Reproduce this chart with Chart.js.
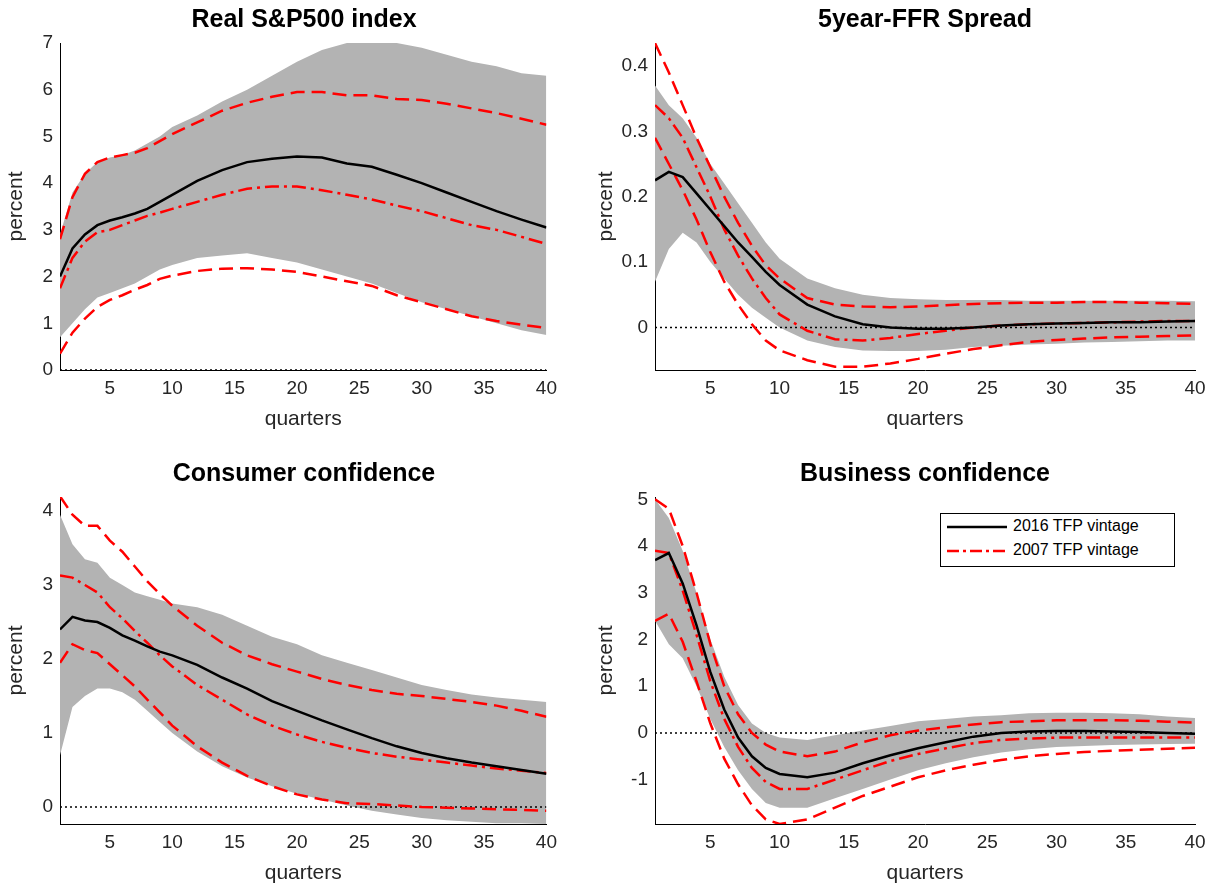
<!DOCTYPE html>
<html>
<head>
<meta charset="utf-8">
<script src="https://cdn.jsdelivr.net/npm/chart.js@4"></script>
<style>
  body { margin: 0; background: #fff; font-family: "Liberation Sans", Arial, sans-serif; }
  .panel { position: absolute; width: 620px; height: 440px; }
  .panel canvas { position: absolute; left: 0; top: 0; }
  .title { position: absolute; top: 4px; font-weight: bold; font-size: 25px; text-align: center; }
  .legend { position: absolute; left: 940px; top: 513px; width: 233px; height: 52px; border: 1px solid #000;
            background: #fff; font-size: 16px; }
  .legend div { height: 24px; line-height: 24px; padding-left: 6px; }
  .legend svg { vertical-align: middle; margin-right: 6px; }
</style>
</head>
<body>
<div class="panel" style="left:0;top:0"><canvas id="c1" width="560" height="440"></canvas>
  <div class="title" style="left:60px;width:488px">Real S&amp;P500 index</div></div>
<div class="panel" style="left:590px;top:0"><canvas id="c2" width="620" height="440"></canvas>
  <div class="title" style="left:65px;width:540px">5year-FFR Spread</div></div>
<div class="panel" style="left:0;top:454px"><canvas id="c3" width="560" height="440"></canvas>
  <div class="title" style="left:60px;width:488px">Consumer confidence</div></div>
<div class="panel" style="left:590px;top:454px"><canvas id="c4" width="620" height="440"></canvas>
  <div class="title" style="left:65px;width:540px">Business confidence</div></div>
<div class="legend">
  <div><svg width="60" height="6"><line x1="0" y1="3" x2="60" y2="3" stroke="#000" stroke-width="2.5"/></svg>2016 TFP vintage</div>
  <div><svg width="60" height="6"><line x1="0" y1="3" x2="60" y2="3" stroke="#f00" stroke-width="2.5" stroke-dasharray="12,4,3,4"/></svg>2007 TFP vintage</div>
</div>
<script>
const quarters = [1,2,3,4,5,6,7,8,9,10,12,14,16,18,20,22,24,26,28,30,32,34,36,38,40];

// Real S&P500 index
const sp_black = [2.0,2.6,2.9,3.1,3.2,3.27,3.35,3.45,3.6,3.75,4.05,4.28,4.45,4.52,4.57,4.55,4.42,4.35,4.18,4.0,3.8,3.6,3.4,3.22,3.05];
const sp_dashdot = [1.75,2.4,2.75,2.95,3.0,3.1,3.2,3.3,3.37,3.45,3.6,3.75,3.88,3.93,3.93,3.85,3.75,3.65,3.52,3.4,3.25,3.1,3.0,2.85,2.7];
const sp_dashHi = [2.8,3.7,4.2,4.45,4.55,4.6,4.65,4.75,4.9,5.05,5.3,5.55,5.72,5.85,5.95,5.95,5.88,5.88,5.8,5.78,5.7,5.6,5.5,5.38,5.25];
const sp_dashLo = [0.35,0.8,1.1,1.35,1.5,1.6,1.72,1.82,1.95,2.02,2.12,2.17,2.18,2.15,2.1,2.0,1.9,1.8,1.6,1.45,1.3,1.15,1.05,0.97,0.9];
const sp_bandHi = [2.9,3.8,4.2,4.45,4.55,4.6,4.7,4.85,5.0,5.2,5.45,5.75,6.0,6.3,6.6,6.85,7.0,7.05,7.0,6.9,6.75,6.6,6.5,6.35,6.3];
const sp_bandLo = [0.7,1.0,1.3,1.55,1.65,1.75,1.85,2.0,2.15,2.25,2.4,2.45,2.5,2.4,2.3,2.15,2.0,1.85,1.65,1.45,1.3,1.15,1.0,0.85,0.75];

// 5year-FFR Spread
const ffr_black = [0.225,0.238,0.23,0.205,0.18,0.155,0.13,0.108,0.085,0.065,0.035,0.017,0.005,0.0,-0.002,-0.002,0.0,0.003,0.005,0.006,0.007,0.008,0.008,0.009,0.01];
const ffr_dashdot = [0.34,0.32,0.29,0.245,0.2,0.15,0.11,0.075,0.045,0.02,-0.005,-0.018,-0.02,-0.016,-0.01,-0.005,0.0,0.003,0.005,0.006,0.007,0.008,0.009,0.01,0.01];
const ffr_dashHi = [0.435,0.39,0.34,0.29,0.245,0.2,0.16,0.125,0.095,0.075,0.045,0.035,0.032,0.031,0.032,0.034,0.036,0.037,0.038,0.038,0.039,0.039,0.038,0.037,0.036];
const ffr_dashLo = [0.29,0.25,0.21,0.165,0.115,0.07,0.035,0.005,-0.02,-0.035,-0.05,-0.06,-0.06,-0.055,-0.048,-0.04,-0.033,-0.027,-0.022,-0.019,-0.017,-0.015,-0.014,-0.013,-0.012];
const ffr_bandHi = [0.37,0.34,0.32,0.29,0.25,0.22,0.19,0.16,0.13,0.105,0.075,0.06,0.05,0.045,0.043,0.042,0.042,0.042,0.041,0.041,0.041,0.041,0.041,0.041,0.04];
const ffr_bandLo = [0.07,0.12,0.145,0.13,0.1,0.075,0.05,0.03,0.015,0.0,-0.02,-0.03,-0.035,-0.036,-0.036,-0.034,-0.03,-0.028,-0.026,-0.025,-0.023,-0.022,-0.021,-0.02,-0.02];

// Consumer confidence
const cc_black = [2.4,2.57,2.52,2.5,2.42,2.32,2.25,2.17,2.1,2.05,1.92,1.75,1.6,1.43,1.3,1.17,1.05,0.93,0.82,0.73,0.66,0.6,0.55,0.5,0.45];
const cc_dashdot = [3.13,3.1,3.0,2.9,2.7,2.55,2.38,2.22,2.05,1.9,1.65,1.45,1.25,1.1,0.98,0.88,0.8,0.73,0.68,0.64,0.6,0.56,0.52,0.49,0.46];
const cc_dashHi = [4.2,3.95,3.8,3.8,3.6,3.45,3.25,3.05,2.88,2.72,2.45,2.22,2.05,1.93,1.83,1.73,1.65,1.58,1.53,1.5,1.46,1.42,1.37,1.3,1.22];
const cc_dashLo = [1.95,2.2,2.12,2.08,1.93,1.78,1.63,1.45,1.28,1.1,0.82,0.6,0.42,0.28,0.17,0.1,0.05,0.04,0.02,0.0,-0.01,-0.02,-0.03,-0.04,-0.05];
const cc_bandHi = [3.95,3.55,3.35,3.3,3.1,3.0,2.9,2.85,2.8,2.75,2.7,2.6,2.45,2.3,2.2,2.05,1.95,1.85,1.75,1.65,1.58,1.52,1.48,1.45,1.42];
const cc_bandLo = [0.7,1.35,1.5,1.6,1.6,1.55,1.45,1.3,1.15,1.0,0.75,0.55,0.4,0.28,0.18,0.1,0.02,-0.05,-0.1,-0.15,-0.18,-0.2,-0.22,-0.22,-0.23];

// Business confidence
const bc_black = [3.7,3.85,3.2,2.3,1.3,0.5,-0.1,-0.5,-0.75,-0.88,-0.95,-0.85,-0.65,-0.48,-0.33,-0.2,-0.08,0.0,0.03,0.04,0.04,0.03,0.02,0.0,-0.02];
const bc_dashdot = [3.9,3.85,3.05,2.1,1.1,0.3,-0.3,-0.75,-1.05,-1.2,-1.2,-1.0,-0.8,-0.6,-0.45,-0.33,-0.22,-0.15,-0.12,-0.1,-0.1,-0.1,-0.1,-0.1,-0.1];
const bc_dashHi = [5.0,4.8,4.0,3.0,1.9,1.0,0.4,0.0,-0.25,-0.4,-0.5,-0.4,-0.2,-0.05,0.05,0.12,0.18,0.23,0.25,0.27,0.27,0.27,0.26,0.24,0.22];
const bc_dashLo = [2.4,2.55,1.95,1.1,0.2,-0.55,-1.1,-1.55,-1.85,-1.95,-1.85,-1.6,-1.35,-1.15,-0.95,-0.8,-0.68,-0.58,-0.5,-0.45,-0.41,-0.38,-0.36,-0.34,-0.32];
const bc_bandHi = [5.0,4.6,3.9,3.0,2.0,1.2,0.6,0.2,0.0,-0.1,-0.15,-0.05,0.05,0.15,0.25,0.3,0.35,0.38,0.42,0.43,0.43,0.42,0.4,0.35,0.32];
const bc_bandLo = [2.4,1.9,1.6,1.0,0.3,-0.3,-0.8,-1.2,-1.5,-1.6,-1.6,-1.4,-1.2,-1.0,-0.8,-0.65,-0.52,-0.42,-0.35,-0.3,-0.28,-0.26,-0.25,-0.24,-0.23];

const xTicks = [5,10,15,20,25,30,35,40];

function pts(vals) {
    return vals.map((v, i) => ({ x: quarters[i], y: v }));
}

function makePanel(id, s, yMin, yMax, yTicks, yWidth, padRight, tickFmt) {
    const line = (data, color, dash, width) => ({
        data: pts(data), borderColor: color, borderDash: dash, borderWidth: width,
        pointRadius: 0, fill: false, tension: 0
    });
    new Chart(document.getElementById(id), {
        type: 'line',
        data: {
            datasets: [
                line(s.black, '#000000', [], 2.5),
                line(s.dashdot, '#ff0000', [14, 5, 3, 5], 2.5),
                line(s.dashHi, '#ff0000', [14, 7], 2.5),
                line(s.dashLo, '#ff0000', [14, 7], 2.5),
                { data: [{ x: 1, y: 0 }, { x: 40, y: 0 }], borderColor: '#000', borderDash: [2, 3], borderWidth: 1.5, pointRadius: 0, fill: false },
                { data: pts(s.bandHi), borderWidth: 0, pointRadius: 0, backgroundColor: '#b3b3b3', fill: '+1' },
                { data: pts(s.bandLo), borderWidth: 0, pointRadius: 0, fill: false }
            ]
        },
        options: {
            responsive: false,
            animation: false,
            layout: { padding: { top: 43, right: padRight, left: 0, bottom: 0 } },
            plugins: { legend: { display: false }, tooltip: { enabled: false }, filler: { drawTime: 'beforeDatasetsDraw' } },
            scales: {
                x: {
                    type: 'linear', min: 1, max: 40,
                    afterBuildTicks: sc => { sc.ticks = xTicks.map(v => ({ value: v })); },
                    afterFit: sc => { sc.height = 70; },
                    grid: { display: false, drawTicks: true, tickLength: 4 },
                    border: { color: '#000', width: 1 },
                    ticks: { color: '#262626', font: { size: 19, family: 'Liberation Sans' }, maxRotation: 0 },
                    title: { display: true, text: 'quarters', color: '#262626', font: { size: 21, family: 'Liberation Sans' }, padding: { top: -2, bottom: 8 } }
                },
                y: {
                    min: yMin, max: yMax,
                    afterBuildTicks: sc => { sc.ticks = yTicks.map(v => ({ value: v })); },
                    afterFit: sc => { sc.width = yWidth; },
                    grid: { display: false, tickLength: 4 },
                    border: { color: '#000', width: 1 },
                    ticks: { color: '#262626', font: { size: 19, family: 'Liberation Sans' }, callback: tickFmt },
                    title: { display: true, text: 'percent', color: '#262626', font: { size: 21, family: 'Liberation Sans' }, padding: { left: 8 } }
                }
            }
        }
    });
}

const fmtInt = v => String(v);
const fmt1 = v => (v === 0 ? '0' : v.toFixed(1));

makePanel('c1', { black: sp_black, dashdot: sp_dashdot, dashHi: sp_dashHi, dashLo: sp_dashLo, bandHi: sp_bandHi, bandLo: sp_bandLo },
    0, 7, [0,1,2,3,4,5,6,7], 60, 12, fmtInt);
makePanel('c2', { black: ffr_black, dashdot: ffr_dashdot, dashHi: ffr_dashHi, dashLo: ffr_dashLo, bandHi: ffr_bandHi, bandLo: ffr_bandLo },
    -0.065, 0.435, [0,0.1,0.2,0.3,0.4], 65, 15, fmt1);
makePanel('c3', { black: cc_black, dashdot: cc_dashdot, dashHi: cc_dashHi, dashLo: cc_dashLo, bandHi: cc_bandHi, bandLo: cc_bandLo },
    -0.23, 4.19, [0,1,2,3,4], 60, 12, fmtInt);
makePanel('c4', { black: bc_black, dashdot: bc_dashdot, dashHi: bc_dashHi, dashLo: bc_dashLo, bandHi: bc_bandHi, bandLo: bc_bandLo },
    -1.95, 5.05, [-1,0,1,2,3,4,5], 65, 15, fmtInt);
</script>
</body>
</html>
